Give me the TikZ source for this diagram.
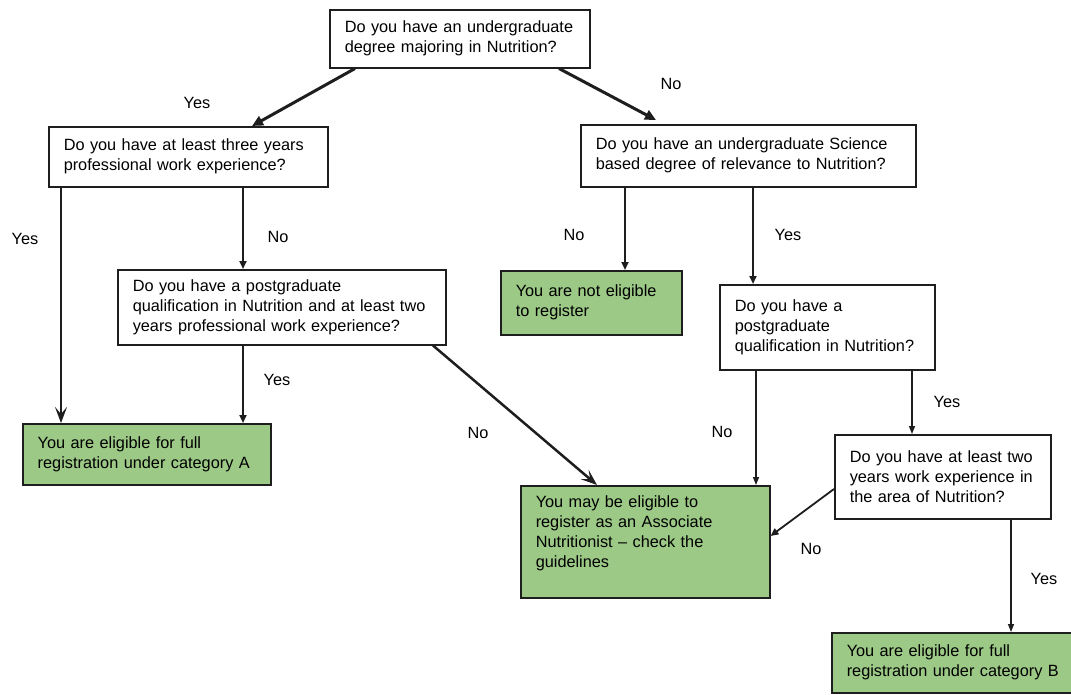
\documentclass[tikz,border=0pt]{standalone}
\usepackage{fontspec}
\setmainfont{Liberation Sans}
\usetikzlibrary{arrows.meta,calc}
\definecolor{boxgreen}{RGB}{156,201,134}
\definecolor{inkline}{RGB}{30,30,30}
\tikzset{
  basebox/.style={draw=inkline, line width=1.5pt, rectangle, anchor=north west,
    inner xsep=0pt, inner ysep=0pt, align=left, text=black,
    execute at begin node={\leftskip=15pt}},
  qbox/.style={basebox, fill=white},
  gbox/.style={basebox, fill=boxgreen},
  lbl/.style={text=black, inner sep=0pt},
  arr/.style={draw=inkline, line width=2.3pt, -{Triangle[length=8pt,width=7pt]}},
  bigarr/.style={draw=inkline, line width=3pt, -{Triangle[length=11pt,width=10pt]}},
  thinarr/.style={draw=inkline, line width=1.4pt, -{Triangle[length=8pt,width=6pt]}},
  barbarr/.style={draw=inkline, line width=2.5pt, -{Stealth[length=16pt,width=12pt,inset=7pt]}},
}
\begin{document}
\begin{tikzpicture}[x=1pt,y=-1pt,font=\fontsize{16.3}{20}\selectfont]
\useasboundingbox (0,0) rectangle (1071,694);
\fill[white] (0,0) rectangle (1071,694);

% boxes
\node[qbox, text width=260pt, minimum height=58pt] (q1) at (329,9)
  {Do you have an undergraduate\\degree majoring in Nutrition?};
\node[qbox, text width=279pt, minimum height=60pt] (q3) at (48,126)
  {Do you have at least three years\\professional work experience?};
\node[qbox, text width=335pt, minimum height=62pt] (q2) at (580,124)
  {Do you have an undergraduate Science\\based degree of relevance to Nutrition?};
\node[qbox, text width=328pt, minimum height=75pt] (q4) at (117,269)
  {Do you have a postgraduate\\qualification in Nutrition and at least two\\years professional work experience?};
\node[gbox, text width=181pt, minimum height=64pt] (ne) at (500,270)
  {You are not eligible\\to register};
\node[qbox, text width=215pt, minimum height=85pt] (q5) at (719,284)
  {Do you have a\\postgraduate\\qualification in Nutrition?};
\node[gbox, text width=248pt, minimum height=61pt] (a) at (22,423)
  {You are eligible for full\\registration under category A};
\node[gbox, text width=249pt, minimum height=112pt] (an) at (520,485)
  {You may be eligible to\\register as an Associate\\Nutritionist -- check the\\guidelines\par\vspace{16pt}};
\node[qbox, text width=216pt, minimum height=84pt] (q6) at (834,434)
  {Do you have at least two\\years work experience in\\the area of Nutrition?};
\node[gbox, text width=242pt, minimum height=60pt] (b) at (831,632)
  {You are eligible for full\\registration under category B};

% connectors
\draw[bigarr] ($(q1.south west)+(26,0)$) -- ($(q3.north west)+(204,0)$);
\draw[bigarr] ($(q1.south west)+(230,0)$) -- ($(q2.north west)+(76,-4)$);
\draw[barbarr] ($(q3.south west)+(13,0)$) -- ($(a.north west)+(39,0)$);
\draw[arr] ($(q3.south west)+(195,0)$) -- ($(q4.north west)+(126,0)$);
\draw[arr] ($(q4.south west)+(126,0)$) -- ($(a.north west)+(221,0)$);
\draw[barbarr] ($(q4.south west)+(316,0)$) -- ($(an.north west)+(77,0)$);
\draw[arr] ($(q2.south west)+(45,0)$) -- ($(ne.north west)+(125,0)$);
\draw[arr] ($(q2.south west)+(173,0)$) -- ($(q5.north west)+(34,0)$);
\draw[thinarr] ($(q5.south west)+(37,0)$) -- ($(an.north west)+(236,0)$);
\draw[thinarr] ($(q5.south west)+(193,0)$) -- ($(q6.north west)+(78,0)$);
\draw[arr, line width=1.8pt] ($(q6.north west)+(0,55)$) -- ($(an.north east)+(0,51)$);
\draw[thinarr] ($(q6.south west)+(177,0)$) -- ($(b.north west)+(180,0)$);

% labels
\node[lbl] (l1) at (197,103) {Yes};
\node[lbl] (l2) at (671,84) {No};
\node[lbl] (l3) at (25,239) {Yes};
\node[lbl] (l4) at (278,237) {No};
\node[lbl] (l5) at (277,380) {Yes};
\node[lbl] (l6) at (478,433) {No};
\node[lbl] (l7) at (574,235) {No};
\node[lbl] (l8) at (788,235) {Yes};
\node[lbl] (l9) at (722,432) {No};
\node[lbl] (l10) at (947,402) {Yes};
\node[lbl] (l11) at (811,549) {No};
\node[lbl] (l12) at (1044,579) {Yes};
\end{tikzpicture}
\end{document}
